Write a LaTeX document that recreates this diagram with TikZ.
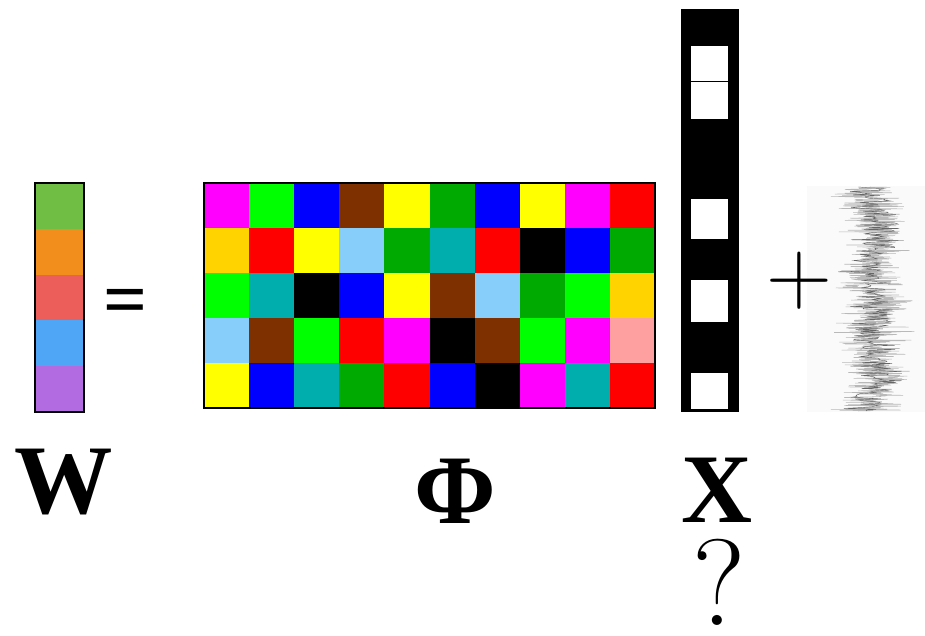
\documentclass[tikz,border=0pt]{standalone}
\usepackage{fontspec}
\newfontfamily\serifb{Liberation Serif}
\usetikzlibrary{positioning}

\definecolor{wgreen}{HTML}{70BF44}
\definecolor{worange}{HTML}{F28E1C}
\definecolor{wred}{HTML}{EB5E5A}
\definecolor{wblue}{HTML}{4FA6F6}
\definecolor{wpurple}{HTML}{B26BE0}
\definecolor{pm}{HTML}{FF00FF}
\definecolor{pl}{HTML}{00FF00}
\definecolor{pb}{HTML}{0000FF}
\definecolor{pn}{HTML}{7F3000}
\definecolor{py}{HTML}{FFFF00}
\definecolor{pg}{HTML}{00AA00}
\definecolor{pr}{HTML}{FF0000}
\definecolor{po}{HTML}{FFD300}
\definecolor{pc}{HTML}{87CEFA}
\definecolor{pt}{HTML}{00AEAE}
\definecolor{pk}{HTML}{000000}
\definecolor{pp}{HTML}{FFA0A0}

\tikzset{
  lbl/.style={font=\serifb\bfseries\fontsize{56}{60}\selectfont,inner sep=0pt,anchor=base},
  sym/.style={font=\fontsize{52}{56}\selectfont,inner sep=0pt}
}

\begin{document}
\begin{tikzpicture}[x=0.02cm,y=-0.02cm]
  \useasboundingbox (0,0) rectangle (925,635);
  % W vector
  \foreach \c [count=\j from 0] in {wgreen,worange,wred,wblue,wpurple}
    \fill[\c] (35,{183+45.8*\j}) rectangle +(49,45.8);
  \draw[semithick] (35,183) rectangle (84,412);
  \node[sym,font=\serifb\bfseries\fontsize{44}{48}\selectfont] (eq) at (126,307) {=};
  % Phi matrix
  \foreach \j/\row in
    {0/{pm,pl,pb,pn,py,pg,pb,py,pm,pr},
     1/{po,pr,py,pc,pg,pt,pr,pk,pb,pg},
     2/{pl,pt,pk,pb,py,pn,pc,pg,pl,po},
     3/{pc,pn,pl,pr,pm,pk,pn,pl,pm,pp},
     4/{py,pb,pt,pg,pr,pb,pk,pm,pt,pr}} {
    \foreach \c [count=\i from 0] in \row
      \fill[\c] ({204+45.1*\i},{183+45*\j}) rectangle +(45.1,45);
  }
  \draw[semithick] (204,183) rectangle (655,408);
  % X column
  \fill (681,9) rectangle (739,412);
  \foreach \a/\b in {46/81,81/119,199/239,280/322,373/409}
    \fill[white] (691,\a) rectangle (728,\b);
  \draw[line width=0.5pt] (691,81) -- (739,81);
  % noise
  \fill[gray!4] (807,186) rectangle (925,412);
  \pgfmathsetseed{42}
  \draw[gray!55,line width=0.3pt] plot[samples=700,domain=187:411]
    ({873+5*sin(\x*5)+16*(rand+rand+rand)},\x);
  \draw[black!60,line width=0.25pt] plot[samples=260,domain=187:411]
    ({873+5*sin(\x*5)+12*(rand+rand+rand)},\x);
  \node[sym] (plus) at (799,281) {+};
  % labels
  \node[lbl] (lblW) at (64,513) {W};
  \node[lbl] (lblPhi) at (455,523) {Φ};
  \node[lbl] (lblX) at (717,522) {X};
  \node[font=\fontsize{70}{74}\selectfont,inner sep=0pt,anchor=base] (qm) at (719,625) {?};
\end{tikzpicture}
\end{document}
